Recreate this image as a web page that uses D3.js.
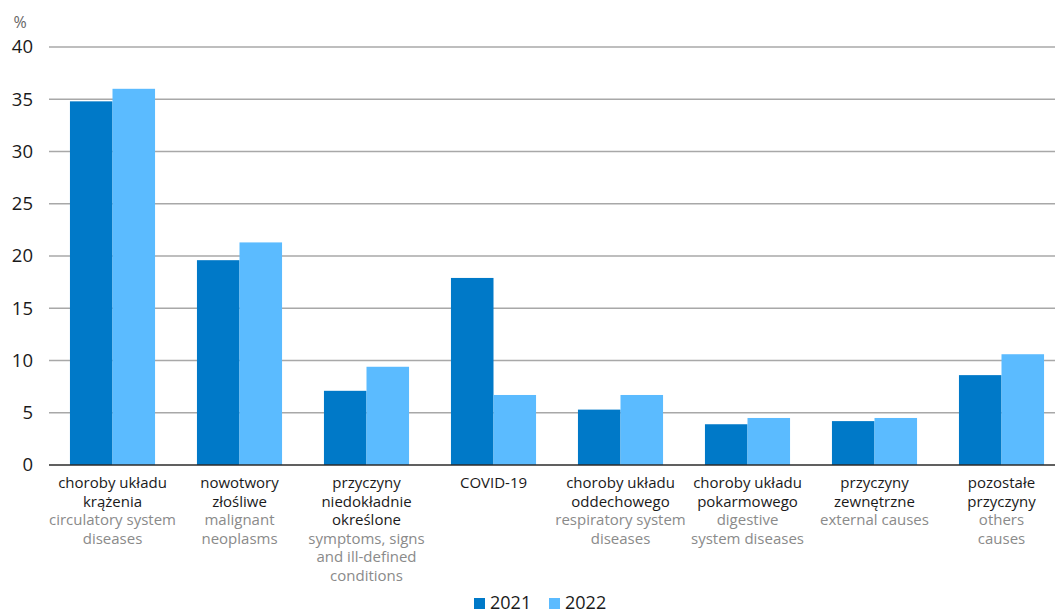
<!DOCTYPE html>
<html>
<head>
<meta charset="utf-8">
<script src="https://cdn.jsdelivr.net/npm/d3@7/dist/d3.min.js"></script>
<style>
  html, body { margin: 0; padding: 0; background: #fff; }
  svg { display: block; font-family: "Open Sans", "Noto Sans", sans-serif; }
</style>
</head>
<body>
<svg id="chart" width="1055" height="614"></svg>
<script>
// Causes of death, share of all deaths (%)
const categoriesPl = [
  ["choroby układu", "krążenia"],
  ["nowotwory", "złośliwe"],
  ["przyczyny", "niedokładnie", "określone"],
  ["COVID-19"],
  ["choroby układu", "oddechowego"],
  ["choroby układu", "pokarmowego"],
  ["przyczyny", "zewnętrzne"],
  ["pozostałe", "przyczyny"]
];
const categoriesEn = [
  ["circulatory system", "diseases"],
  ["malignant", "neoplasms"],
  ["symptoms, signs", "and ill-defined", "conditions"],
  [],
  ["respiratory system", "diseases"],
  ["digestive", "system diseases"],
  ["external causes"],
  ["others", "causes"]
];
const years = ["2021", "2022"];
const values2021 = [34.8, 19.6, 7.1, 17.9, 5.3, 3.9, 4.2, 8.6];
const values2022 = [36.0, 21.3, 9.4, 6.7, 6.7, 4.5, 4.5, 10.6];
const yTicks = [0, 5, 10, 15, 20, 25, 30, 35, 40];
const colors = ["#0079c8", "#5bbbff"];

const series = [values2021, values2022];
const svg = d3.select("#chart");
const W = 1055;

const plotLeft = 49, plotRight = 1065;
const y = d3.scaleLinear().domain([0, 40]).range([465, 47]);
const x0 = d3.scaleBand()
  .domain(d3.range(categoriesPl.length))
  .range([plotLeft, plotRight])
  .paddingInner(0.33)
  .paddingOuter(0.165);
const x1 = d3.scaleBand().domain(d3.range(years.length)).range([0, x0.bandwidth()]).padding(0);

// horizontal gridlines
const yAxis = d3.axisLeft(y).tickValues(yTicks).tickSize(0).tickPadding(0);
svg.append("g")
  .selectAll("line")
  .data(yTicks.filter(d => d > 0))
  .join("line")
  .attr("x1", plotLeft).attr("x2", W)
  .attr("y1", d => y(d)).attr("y2", d => y(d))
  .attr("stroke", "#a8a8a8")
  .attr("stroke-width", 1.5);

// y tick labels
const gy = svg.append("g").attr("transform", "translate(33,0)").call(yAxis);
gy.select(".domain").remove();
gy.selectAll("text")
  .attr("font-size", 18.5)
  .attr("fill", "#1a1a1a")
  .attr("font-family", "'Open Sans', sans-serif");

svg.append("text")
  .attr("x", 20).attr("y", 28)
  .attr("text-anchor", "middle")
  .attr("font-size", 16)
  .attr("fill", "#666")
  .text("%");

// bars
const groups = svg.append("g")
  .selectAll("g")
  .data(categoriesPl.map((c, i) => i))
  .join("g")
  .attr("transform", i => `translate(${x0(i)},0)`);

groups.selectAll("rect")
  .data(i => series.map((s, k) => ({ k, v: s[i] })))
  .join("rect")
  .attr("x", d => x1(d.k))
  .attr("width", x1.bandwidth())
  .attr("y", d => y(d.v))
  .attr("height", d => y(0) - y(d.v))
  .attr("fill", d => colors[d.k]);

// baseline
svg.append("line")
  .attr("x1", plotLeft).attr("x2", W)
  .attr("y1", y(0)).attr("y2", y(0))
  .attr("stroke", "#2b2b2b")
  .attr("stroke-width", 1.5);

// category labels
const lineH = 18.5;
const labels = svg.append("g")
  .selectAll("text")
  .data(categoriesPl.map((c, i) => i))
  .join("text")
  .attr("text-anchor", "middle")
  .attr("font-size", 15)
  .attr("transform", i => `translate(${x0(i) + x0.bandwidth() / 2},488)`);

labels.each(function(i) {
  const t = d3.select(this);
  const lines = categoriesPl[i].map(s => ({ s, c: "#1a1a1a" }))
    .concat(categoriesEn[i].map(s => ({ s, c: "#8a8a8a" })));
  lines.forEach((l, j) => {
    t.append("tspan")
      .attr("x", 0)
      .attr("y", j * lineH)
      .attr("fill", l.c)
      .text(l.s);
  });
});

// legend
const legend = svg.append("g").attr("transform", "translate(474,609)");
const legX = [0, 75];
years.forEach((yr, k) => {
  legend.append("rect")
    .attr("x", legX[k]).attr("y", -11)
    .attr("width", 11).attr("height", 11)
    .attr("fill", colors[k]);
  legend.append("text")
    .attr("x", legX[k] + 16).attr("y", 0)
    .attr("font-size", 18)
    .attr("fill", "#1a1a1a")
    .text(yr);
});
</script>
</body>
</html>
